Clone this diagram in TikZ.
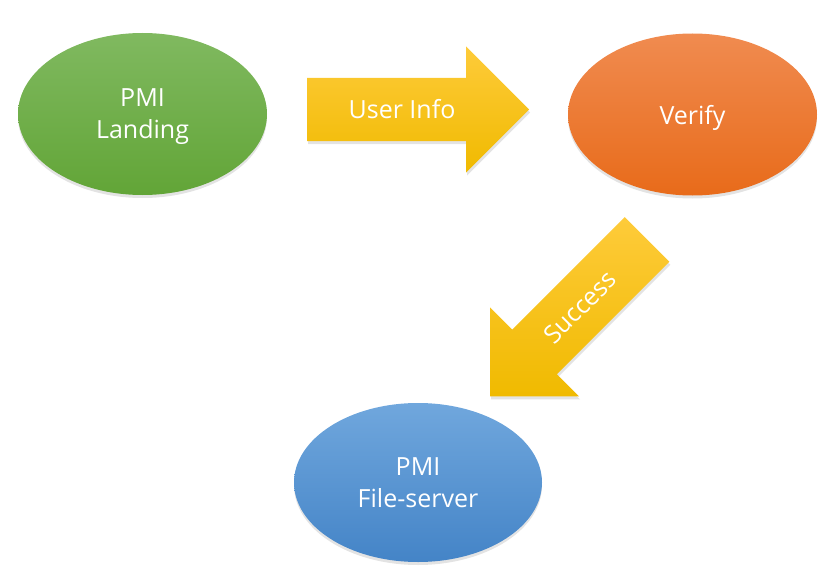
\documentclass[tikz,border=0pt]{standalone}
\usepackage{fontspec}
\setmainfont{Open Sans}
\usetikzlibrary{shapes.geometric,shadows}
\definecolor{gtop}{HTML}{80B960}
\definecolor{gbot}{HTML}{62A537}
\definecolor{otop}{HTML}{F08B50}
\definecolor{obot}{HTML}{E86B1A}
\definecolor{btop}{HTML}{70A7DD}
\definecolor{bbot}{HTML}{4484C7}
\definecolor{ytop}{HTML}{FECB3A}
\definecolor{ybot}{HTML}{F0BA00}
\tikzset{
  blob/.style={ellipse, minimum width=249pt, minimum height=162pt, inner sep=0pt,
    text=white, align=center, font=\fontsize{25}{32}\selectfont, text depth=0pt,
    drop shadow={opacity=0.22, shadow xshift=0pt, shadow yshift=-3pt}},
  blockarrow/.style={top color=ytop, bottom color=ybot, draw=none,
    drop shadow={opacity=0.22, shadow xshift=1pt, shadow yshift=-3pt}},
  arrowtext/.style={text=white, font=\fontsize{25}{30}\selectfont, inner sep=0pt}
}
\begin{document}
\begin{tikzpicture}[x=1pt,y=-1pt]
\useasboundingbox (0,0) rectangle (836,578);
% block arrows
\begin{scope}[shift={(307,109.5)}]
  \path[blockarrow] (0,-31.5) -- (159,-31.5) -- (159,-63) -- (222,0) -- (159,63) -- (159,31.5) -- (0,31.5) -- cycle;
  \node[arrowtext] (userinfo) at (95,0) {User Info};
\end{scope}
\begin{scope}[shift={(647,239.5)}, rotate=225]
  \path[blockarrow] (0,-31.5) -- (159,-31.5) -- (159,-63) -- (222,0) -- (159,63) -- (159,31.5) -- (0,31.5) -- cycle;
\end{scope}
\node[arrowtext, rotate=45] (success) at (580,307) {Success};
% ellipses
\node[blob, top color=gtop, bottom color=gbot] (landing) at (142.5,114) {PMI\\Landing};
\node[blob, top color=otop, bottom color=obot] (verify) at (692.5,114.5) {Verify};
\node[blob, top color=btop, bottom color=bbot, minimum width=248pt, minimum height=159pt] (fileserver) at (418,482.5) {PMI\\File-server};
\end{tikzpicture}
\end{document}
